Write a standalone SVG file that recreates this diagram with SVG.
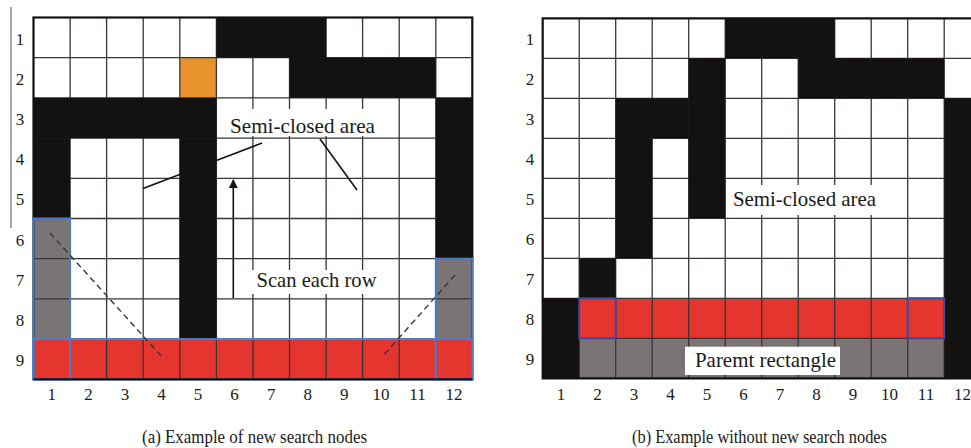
<svg xmlns="http://www.w3.org/2000/svg" width="971" height="448" viewBox="0 0 971 448">
<style>
  text { font-family: "Liberation Serif", "Times New Roman", serif; fill: #1a1a1a; }
  .lbl { font-size: 17px; text-anchor: middle; }
  .big { font-size: 22px; }
  .cap { font-size: 18px; }
  .grid { stroke: #3a3535; stroke-width: 1.3; fill: none; }
  .blk { fill: #141111; }
  .red { fill: #e5352f; }
  .gry { fill: #7b7474; }
  .org { fill: #e8922e; }
  .blue { fill: none; stroke: #4a7fd0; stroke-width: 2; }
  .blue2 { fill: none; stroke: #3d4a9e; stroke-width: 2; }
  .border { fill: none; stroke: #141111; stroke-width: 2.2; }
  .lead { stroke: #141111; stroke-width: 1.6; fill: none; }
  .dash { stroke: #3a3535; stroke-width: 1.4; stroke-dasharray: 6 4; fill: none; }
</style>
<defs>
  <marker id="ah" viewBox="0 0 10 10" refX="9" refY="5" markerWidth="9" markerHeight="9" markerUnits="userSpaceOnUse" orient="auto">
    <path d="M0,0 L10,5 L0,10 z" fill="#141111"/>
  </marker>
</defs>
<rect x="0" y="0" width="971" height="448" fill="#ffffff"/>
<line x1="11" y1="7" x2="11" y2="228" stroke="#8a8a8a" stroke-width="1.5"/>

<g id="panel-a">
  <rect x="33.5" y="17.5" width="438.8" height="361.8" fill="#ffffff"/>
  <rect class="org" x="179.8" y="57.7" width="36.6" height="40.2"/>
  <rect class="gry" x="33.5" y="218.5" width="36.6" height="120.6"/>
  <rect class="gry" x="435.8" y="258.7" width="36.6" height="80.4"/>
  <rect class="red" x="33.5" y="339.1" width="438.8" height="40.2"/>
  <path class="grid" d="M70.1,17.5V379.3M106.6,17.5V379.3M143.2,17.5V379.3M179.8,17.5V379.3M216.4,17.5V379.3M252.9,17.5V379.3M289.5,17.5V379.3M326.1,17.5V379.3M362.6,17.5V379.3M399.2,17.5V379.3M435.8,17.5V379.3M33.5,57.7H472.3M33.5,97.9H472.3M33.5,138.1H472.3M33.5,178.3H472.3M33.5,218.5H472.3M33.5,258.7H472.3M33.5,298.9H472.3M33.5,339.1H472.3"/>
  <rect class="blk" x="216.4" y="17.5" width="109.7" height="40.2"/>
  <rect class="blk" x="289.5" y="57.7" width="146.3" height="40.2"/>
  <rect class="blk" x="33.5" y="97.9" width="182.9" height="40.2"/>
  <rect class="blk" x="33.5" y="138.1" width="36.6" height="80.4"/>
  <rect class="blk" x="179.8" y="138.1" width="36.6" height="201"/>
  <rect class="blk" x="435.8" y="97.9" width="36.6" height="160.8"/>
  <rect class="border" x="33.5" y="17.5" width="438.8" height="361.8"/>
  <rect class="blue" x="33.5" y="339.1" width="438.8" height="40.2"/>
  <rect class="blue" x="33.5" y="218.5" width="36.6" height="160.8"/>
  <rect class="blue" x="435.8" y="258.7" width="36.6" height="120.6"/>
  <line x1="33.5" y1="379.3" x2="472.3" y2="379.3" stroke="#141111" stroke-width="2"/>
  <rect x="227" y="109" width="151" height="27" fill="#ffffff"/>
  <text class="big" x="230" y="133" textLength="145" lengthAdjust="spacingAndGlyphs">Semi-closed area</text>
  <rect x="251" y="270" width="130" height="24" fill="#ffffff"/>
  <text class="big" x="256.5" y="287" textLength="120" lengthAdjust="spacingAndGlyphs">Scan each row</text>
  <g class="lbl">
    <text class="lbl" x="20" y="44.6">1</text>
    <text class="lbl" x="20" y="84.8">2</text>
    <text class="lbl" x="20" y="125">3</text>
    <text class="lbl" x="20" y="165.2">4</text>
    <text class="lbl" x="20" y="205.4">5</text>
    <text class="lbl" x="20" y="245.6">6</text>
    <text class="lbl" x="20" y="285.8">7</text>
    <text class="lbl" x="20" y="326">8</text>
    <text class="lbl" x="20" y="366.2">9</text>
    <text class="lbl" x="51.8" y="400">1</text>
    <text class="lbl" x="88.4" y="400">2</text>
    <text class="lbl" x="124.9" y="400">3</text>
    <text class="lbl" x="161.5" y="400">4</text>
    <text class="lbl" x="198.1" y="400">5</text>
    <text class="lbl" x="234.6" y="400">6</text>
    <text class="lbl" x="271.2" y="400">7</text>
    <text class="lbl" x="307.8" y="400">8</text>
    <text class="lbl" x="344.3" y="400">9</text>
    <text class="lbl" x="380.9" y="400">10</text>
    <text class="lbl" x="417.5" y="400">11</text>
    <text class="lbl" x="454.1" y="400">12</text>
  </g>
  <text class="cap" x="142" y="443" textLength="225" lengthAdjust="spacingAndGlyphs">(a) Example of new search nodes</text>
</g>

<g id="panel-b">
  <rect x="542.7" y="18.3" width="430" height="360" fill="#ffffff"/>
  <rect class="red" x="579.2" y="298.3" width="365" height="40"/>
  <rect class="gry" x="579.2" y="338.3" width="365" height="40"/>
  <path class="grid" d="M579.2,18.3V378.3M615.7,18.3V378.3M652.2,18.3V378.3M688.7,18.3V378.3M725.2,18.3V378.3M761.7,18.3V378.3M798.2,18.3V378.3M834.7,18.3V378.3M871.2,18.3V378.3M907.7,18.3V378.3M944.2,18.3V378.3M542.7,58.3H971M542.7,98.3H971M542.7,138.3H971M542.7,178.3H971M542.7,218.3H971M542.7,258.3H971M542.7,298.3H971M542.7,338.3H971"/>
  <rect class="blk" x="725.2" y="18.3" width="109.5" height="40"/>
  <rect class="blk" x="688.7" y="58.3" width="36.5" height="160"/>
  <rect class="blk" x="798.2" y="58.3" width="146" height="40"/>
  <rect class="blk" x="615.7" y="98.3" width="73" height="40"/>
  <rect class="blk" x="615.7" y="138.3" width="36.5" height="120"/>
  <rect class="blk" x="579.2" y="258.3" width="36.5" height="40"/>
  <rect class="blk" x="542.7" y="298.3" width="36.5" height="80"/>
  <rect class="blk" x="944.2" y="98.3" width="36.5" height="280"/>
  <path class="border" d="M971,18.3H542.7V378.3H971"/>
  <rect class="blue2" x="579.2" y="298.3" width="36.5" height="40"/>
  <rect class="blue2" x="907.7" y="298.3" width="36.5" height="40"/>
  <rect x="728" y="185" width="152" height="30" fill="#ffffff"/>
  <text class="big" x="733" y="206" textLength="143" lengthAdjust="spacingAndGlyphs">Semi-closed area</text>
  <rect x="685" y="346.7" width="155" height="28.3" fill="#ffffff"/>
  <text class="big" x="695" y="366.7" textLength="141" lengthAdjust="spacingAndGlyphs">Paremt rectangle</text>
  <g>
    <text class="lbl" x="530" y="45.3">1</text>
    <text class="lbl" x="530" y="85.3">2</text>
    <text class="lbl" x="530" y="125.3">3</text>
    <text class="lbl" x="530" y="165.3">4</text>
    <text class="lbl" x="530" y="205.3">5</text>
    <text class="lbl" x="530" y="245.3">6</text>
    <text class="lbl" x="530" y="285.3">7</text>
    <text class="lbl" x="530" y="325.3">8</text>
    <text class="lbl" x="530" y="365.3">9</text>
    <text class="lbl" x="561" y="400">1</text>
    <text class="lbl" x="597.5" y="400">2</text>
    <text class="lbl" x="634" y="400">3</text>
    <text class="lbl" x="670.5" y="400">4</text>
    <text class="lbl" x="707" y="400">5</text>
    <text class="lbl" x="743.5" y="400">6</text>
    <text class="lbl" x="780" y="400">7</text>
    <text class="lbl" x="816.5" y="400">8</text>
    <text class="lbl" x="853" y="400">9</text>
    <text class="lbl" x="889.5" y="400">10</text>
    <text class="lbl" x="926" y="400">11</text>
    <text class="lbl" x="962.5" y="400">12</text>
  </g>
  <text class="cap" x="632" y="443" textLength="255" lengthAdjust="spacingAndGlyphs">(b) Example without new search nodes</text>
</g>

<g id="connectors">
  <line class="lead" x1="262" y1="143" x2="143" y2="188.5"/>
  <line class="lead" x1="320" y1="139" x2="357" y2="190"/>
  <line class="lead" x1="233.3" y1="298" x2="233.3" y2="180" marker-end="url(#ah)"/>
  <line class="dash" x1="50" y1="233" x2="163" y2="358"/>
  <line class="dash" x1="455" y1="275" x2="382" y2="357"/>
</g>
</svg>
